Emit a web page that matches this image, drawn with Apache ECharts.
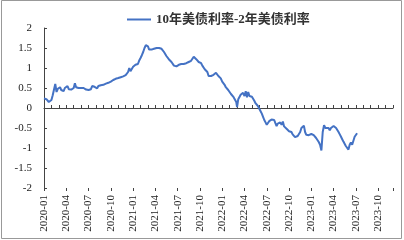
<!DOCTYPE html>
<html><head><meta charset="utf-8">
<script src="https://cdn.jsdelivr.net/npm/echarts@6/dist/echarts.min.js"></script>
<style>html,body{margin:0;padding:0;background:#fff}#c{width:404px;height:240px}</style>
</head><body><div id="c"></div>
<script>
const seriesName = '10年美债利率-2年美债利率';
const tickLabels = ['2020-01','2020-04','2020-07','2020-10','2021-01','2021-04','2021-07','2021-10','2022-01','2022-04','2022-07','2022-10','2023-01','2023-04','2023-07','2023-10'];
// sampling days within each month, starting 2020-01
const sampleDays = [1,6,11,16,21,26];
const spread = [
0.24,0.2,0.22,0.17,0.15,0.12,
0.2,0.32,0.28,0.6,0.4,0.48,
0.44,0.52,0.45,0.5,0.42,0.5,
0.49,0.55,0.47,0.52,0.46,0.51,
0.5,0.62,0.52,0.56,0.5,0.53,
0.5,0.47,0.5,0.45,0.46,0.43,
0.45,0.42,0.47,0.55,0.5,0.53,
0.52,0.49,0.55,0.52,0.57,0.55,
0.58,0.55,0.61,0.59,0.63,0.6,
0.66,0.63,0.7,0.67,0.73,0.7,
0.75,0.72,0.77,0.74,0.79,0.77,
0.82,0.8,0.9,1.0,0.92,0.97,
1.03,0.98,1.08,1.12,1.1,1.18,
1.25,1.32,1.4,1.5,1.57,1.52,
1.54,1.46,1.42,1.46,1.44,1.48,
1.46,1.5,1.47,1.5,1.45,1.48,
1.44,1.4,1.36,1.3,1.27,1.22,
1.2,1.15,1.1,1.06,1.09,1.04,
1.02,1.08,1.05,1.1,1.06,1.1,
1.07,1.12,1.1,1.15,1.13,1.18,
1.2,1.28,1.24,1.22,1.17,1.15,
1.1,1.12,1.06,1.05,0.97,0.92,
0.9,0.8,0.77,0.8,0.78,0.83,
0.85,0.88,0.84,0.8,0.76,0.74,
0.66,0.62,0.58,0.52,0.48,0.45,
0.4,0.35,0.32,0.27,0.22,0.15,
0.02,0.22,0.26,0.33,0.28,0.38,
0.3,0.42,0.27,0.4,0.3,0.33,
0.28,0.26,0.18,0.12,0.08,0.05,
0.02,-0.08,-0.14,-0.22,-0.3,-0.36,
-0.42,-0.46,-0.33,-0.36,-0.29,-0.32,
-0.3,-0.38,-0.45,-0.39,-0.41,-0.36,
-0.42,-0.34,-0.46,-0.5,-0.52,-0.56,
-0.58,-0.62,-0.6,-0.66,-0.7,-0.73,
-0.75,-0.7,-0.65,-0.6,-0.5,-0.45,
-0.44,-0.6,-0.67,-0.63,-0.68,-0.65,
-0.65,-0.7,-0.68,-0.73,-0.75,-0.8,
-0.85,-0.92,-1.06,-0.6,-0.43,-0.5,
-0.48,-0.53,-0.5,-0.56,-0.5,-0.47,
-0.45,-0.42,-0.5,-0.55,-0.6,-0.66,
-0.72,-0.78,-0.84,-0.88,-0.95,-0.98,
-1.04,-0.92,-0.86,-0.92,-0.82,-0.72,
-0.67,-0.63
];
function pad(n){return (n<10?'0':'')+n;}
const dates = spread.map((v,i)=>{const mi=Math.floor(i/sampleDays.length);const y=2020+Math.floor(mi/12);const m=mi%12+1;return y+'-'+pad(m)+'-'+pad(sampleDays[i%sampleDays.length]);});
function monthIndex(s){const p=s.split('-').map(Number);const dim=new Date(p[0],p[1],0).getDate();return (p[0]-2020)*12+(p[1]-1)+(p[2]-1)/dim;}
const data = dates.map((d,i)=>[monthIndex(d), spread[i]]);
const serif = '"Liberation Serif","Noto Sans CJK SC",serif';
const axisColor = '#444';
const chart = echarts.init(document.getElementById('c'));
chart.setOption({
  animation:false,
  graphic:[{type:'rect',shape:{x:1.5,y:0.5,width:400,height:238},style:{fill:'none',stroke:'#999',lineWidth:1},silent:true,z:-1}],
  legend:{top:8,left:122,itemWidth:24,itemHeight:2,itemGap:4,icon:'rect',data:[seriesName],
    textStyle:{fontFamily:serif,fontSize:13,color:'#333',fontWeight:'bold'}},
  grid:{left:44,right:11,top:28,bottom:52},
  yAxis:{type:'value',min:-2,max:2,interval:0.5,
    axisLine:{show:true,onZero:false,lineStyle:{color:axisColor,width:1}},
    axisTick:{show:true,inside:true,length:3,lineStyle:{color:axisColor}},
    axisLabel:{margin:12,fontFamily:serif,fontSize:11,color:'#222'},
    splitLine:{show:false}},
  xAxis:[
    {type:'value',min:0,max:47,interval:1,position:'bottom',
     axisLine:{show:true,onZero:true,lineStyle:{color:axisColor,width:1}},
     axisTick:{show:true,inside:true,length:3,lineStyle:{color:axisColor}},
     axisLabel:{show:false},splitLine:{show:false}},
    {type:'value',min:0,max:47,interval:3,position:'bottom',
     axisLine:{show:false,onZero:true},
     axisTick:{show:true,inside:false,length:3,lineStyle:{color:axisColor}},
     axisLabel:{show:false},splitLine:{show:false}},
    {type:'value',min:0,max:47,interval:3,position:'bottom',
     axisLine:{show:false,onZero:false},axisTick:{show:false},splitLine:{show:false},
     axisLabel:{rotate:90,margin:7,fontFamily:serif,fontSize:11,color:'#222',
       showMaxLabel:false,
       formatter:function(v){return (v%3===0 && tickLabels[v/3]) ? tickLabels[v/3] : '';}}}
  ],
  series:[{name:seriesName,type:'line',xAxisIndex:0,yAxisIndex:0,data:data,symbol:'none',
    lineStyle:{color:'#4472c4',width:2},itemStyle:{color:'#4472c4'}}]
});
</script></body></html>
